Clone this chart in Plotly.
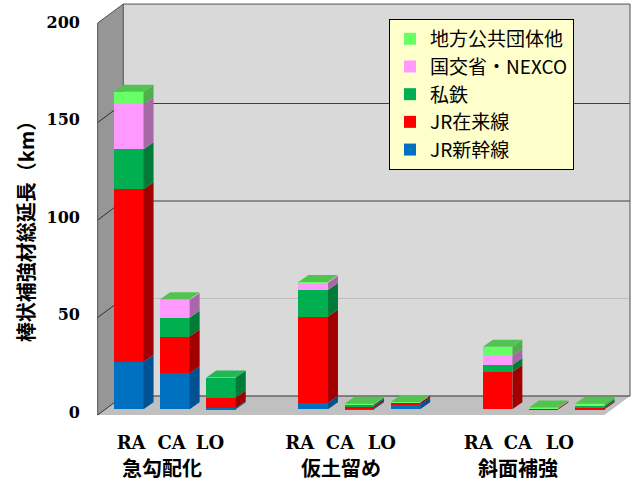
import plotly.graph_objects as go

# ---------------- data ----------------
groups = ["急勾配化", "仮土留め", "斜面補強"]
methods = ["RA", "CA", "LO"]
series_names = ["JR新幹線", "JR在来線", "私鉄", "国交省・NEXCO", "地方公共団体他"]
# bar order: 急勾配化 RA, CA, LO | 仮土留め RA, CA, LO | 斜面補強 RA, CA, LO
jr_shinkansen = [24.4, 18.5, 0.7, 3.4, 0.6, 2.5, 0.0, 0.0, 0.0]
jr_zairai     = [88.4, 18.8, 5.3, 44.1, 0.9, 0.9, 19.1, 0.6, 0.7]
shitetsu      = [20.5, 9.7, 10.3, 13.7, 1.0, 0.0, 3.6, 0.0, 1.0]
kokko_nexco   = [23.2, 9.1, 0.0, 3.7, 0.0, 0.0, 4.8, 0.0, 0.0]
chiho         = [6.3, 0.3, 0.0, 0.4, 0.3, 0.3, 4.6, 0.3, 1.2]
y_ticks = [0, 50, 100, 150, 200]

series_values = [jr_shinkansen, jr_zairai, shitetsu, kokko_nexco, chiho]
front_colors = ["#0070C0", "#FF0000", "#00B050", "#FF99FF", "#66FF66"]
side_colors = ["#005293", "#A00000", "#007A37", "#A868A8", "#4DB04D"]
cap_colors = ["#3A8ED4", "#FF4A4A", "#22B655", "#D080D0", "#50C350"]

# ---------------- geometry (styling) ----------------
x_pos = [g * 4 + m for g in range(len(groups)) for m in range(len(methods))]
BAR_W = 0.64
BAR_DX, BAR_DY = 0.217, 3.59          # bar depth (oblique)
WALL_X0, FLOOR_Y = -0.675, -2.92       # front-left corner of floor
DEPTH_DX, DEPTH_DY = 0.555, 9.74       # wall depth (oblique)
WALL_XR = 10.872                        # right end of back wall
WALL_H = 201

fig = go.Figure()

# front faces as stacked bars
for name, vals, col in zip(series_names, series_values, front_colors):
    fig.add_trace(go.Bar(x=x_pos, y=vals, name=name, width=BAR_W,
                         marker=dict(color=col, line=dict(width=0)),
                         hoverinfo="skip"))

# side faces
base = [0.0] * len(x_pos)
tops = [None] * len(x_pos)
for si, (vals, scol) in enumerate(zip(series_values, side_colors)):
    xs, ys = [], []
    for i, (xc, v) in enumerate(zip(x_pos, vals)):
        if v > 0:
            y0, y1 = base[i], base[i] + v
            xr = xc + BAR_W / 2
            xs += [xr, xr + BAR_DX, xr + BAR_DX, xr, xr, None]
            ys += [y0, y0 + BAR_DY, y1 + BAR_DY, y1, y0, None]
            base[i] = y1
            tops[i] = si
    fig.add_trace(go.Scatter(x=xs, y=ys, mode="lines", fill="toself",
                             fillcolor=scol, line=dict(width=0, color=scol),
                             showlegend=False, hoverinfo="skip"))

# top caps
for si, ccol in enumerate(cap_colors):
    xs, ys = [], []
    for i, xc in enumerate(x_pos):
        if tops[i] == si:
            t = base[i]
            xl, xr = xc - BAR_W / 2, xc + BAR_W / 2
            xs += [xl, xl + BAR_DX, xr + BAR_DX, xr, xl, None]
            ys += [t, t + BAR_DY, t + BAR_DY, t, t, None]
    if xs:
        fig.add_trace(go.Scatter(x=xs, y=ys, mode="lines", fill="toself",
                                 fillcolor=ccol, line=dict(width=0, color=ccol),
                                 showlegend=False, hoverinfo="skip"))

# walls / floor
bx0 = WALL_X0 + DEPTH_DX
by0 = FLOOR_Y + DEPTH_DY
shapes = []
def poly(pts, fill, line_col=None, lw=0):
    path = "M " + " L ".join(f"{x},{y}" for x, y in pts) + " Z"
    return dict(type="path", path=path, xref="x", yref="y", layer="below",
                fillcolor=fill, line=dict(width=lw, color=line_col or fill))
def seg(p, q, col, lw=1):
    return dict(type="line", x0=p[0], y0=p[1], x1=q[0], y1=q[1], xref="x", yref="y",
                layer="below", line=dict(color=col, width=lw))

shapes.append(poly([(bx0, by0), (bx0, by0 + WALL_H), (WALL_XR, by0 + WALL_H), (WALL_XR, by0)], "#D9D9D9"))
shapes.append(poly([(WALL_X0, FLOOR_Y), (WALL_X0, FLOOR_Y + WALL_H), (bx0, by0 + WALL_H), (bx0, by0)], "#969696"))
shapes.append(poly([(WALL_X0, FLOOR_Y), (bx0, by0), (WALL_XR, by0), (WALL_XR - DEPTH_DX, FLOOR_Y)], "#C0C0C0"))
for v in y_ticks[1:-1]:
    col = "#BFBFBF" if v == 50 else "#404040"
    shapes.append(seg((bx0, by0 + v), (WALL_XR, by0 + v), col))
    shapes.append(seg((WALL_X0, FLOOR_Y + v), (bx0, by0 + v), "#303030"))
edge = "#505050"
shapes.append(seg((bx0, by0 + WALL_H), (WALL_XR, by0 + WALL_H), edge))
shapes.append(seg((WALL_XR, by0), (WALL_XR, by0 + WALL_H), edge))
shapes.append(seg((bx0, by0), (WALL_XR, by0), "#303030"))
shapes.append(seg((WALL_X0, FLOOR_Y), (bx0, by0), "#303030"))
shapes.append(seg((WALL_X0, FLOOR_Y), (WALL_X0, FLOOR_Y + WALL_H), edge))
shapes.append(seg((WALL_X0, FLOOR_Y + WALL_H), (bx0, by0 + WALL_H), edge))
shapes.append(seg((bx0, by0), (bx0, by0 + WALL_H), edge))

# x tick label positions (text layout)
label_pos = [0.05, 0.93, 1.76, 3.71, 4.58, 5.49, 7.58, 8.44, 9.35]
group_label_pos = [0.73, 4.61, 8.44]

annotations = []
for g, xp in zip(groups, group_label_pos):
    annotations.append(dict(x=xp, y=-0.088, xref="x", yref="paper", text=g, showarrow=False,
                            xanchor="center", yanchor="middle",
                            font=dict(family="Noto Sans CJK JP", size=20, color="black", weight="bold")))
annotations.append(dict(x=-0.1180, y=0.474, xref="paper", yref="paper", text="棒状補強材総延長（km）",
                        showarrow=False, textangle=-90, xanchor="center", yanchor="middle",
                        font=dict(family="Noto Sans CJK JP", size=20, color="black", weight="bold")))

fig.update_layout(
    width=641, height=489,
    margin=dict(l=90, r=0, t=0, b=59, pad=0),
    paper_bgcolor="white", plot_bgcolor="white",
    barmode="stack", bargap=0,
    shapes=shapes, annotations=annotations,
    showlegend=True,
    legend=dict(x=0.5426, y=0.9560, xanchor="left", yanchor="top",
                bgcolor="#FFFFCC", bordercolor="black", borderwidth=1,
                traceorder="reversed",
                font=dict(family="Noto Sans CJK JP", size=19, color="black")),
    xaxis=dict(range=[-0.8416, 11.1106], showgrid=False, zeroline=False, showline=False,
               tickvals=label_pos, ticktext=methods * len(groups), ticks="",
               tickfont=dict(family="DejaVu Serif", size=18, color="black", weight="bold")),
    yaxis=dict(range=[-10.615, 209.9], showgrid=False, zeroline=False, showline=False,
               tickvals=y_ticks, ticks="", ticklabelstandoff=9, ticklabelshift=3,
               tickfont=dict(family="DejaVu Serif", size=16, color="black", weight="bold")),
)

fig.write_html("out.html")
